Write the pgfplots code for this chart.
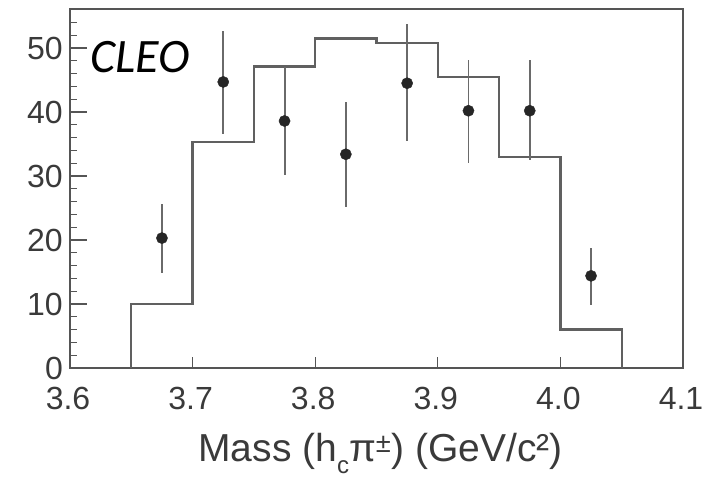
\documentclass[border=0pt]{standalone}
\usepackage{pgfplots}
\pgfplotsset{compat=1.18}
\usepackage{fontspec}
\setmainfont{Liberation Sans}
\newfontfamily\cleofont{Carlito}
\definecolor{framegray}{HTML}{555555}
\definecolor{histgray}{HTML}{606060}
\definecolor{errgray}{HTML}{6A6A6A}
\definecolor{labgray}{HTML}{3A3A3A}
\begin{document}
\begin{tikzpicture}
\begin{axis}[
  name=ax,
  scale only axis,
  width=613bp, height=359bp,
  xmin=3.6, xmax=4.1, ymin=0, ymax=56.1,
  xtick={3.6,3.7,3.8,3.9,4.0,4.1},
  xticklabels={3.6,3.7,3.8,3.9,4.0,4.1},
  ytick={0,10,20,30,40,50},
  minor ytick={2,4,6,8,12,14,16,18,22,24,26,28,32,34,36,38,42,44,46,48,52,54},
  tick align=inside,
  xtick pos=bottom, ytick pos=left,
  axis line style={framegray, line width=2.2bp},
  major tick style={framegray, line width=1.3bp},
  minor tick style={framegray, line width=1.1bp},
  x tick style={/pgfplots/major tick length=11bp},
  y tick style={/pgfplots/major tick length=17bp},
  minor tick length=7bp,
  ticklabel style={font=\fontsize{32bp}{36bp}\selectfont, text=labgray, inner sep=0pt},
  yticklabel style={xshift=-7bp},
  xticklabel style={yshift=-19bp, xshift=-2bp},
  /pgf/number format/assume math mode=true,
  xlabel={Mass (h\raisebox{-0.3em}{\fontsize{24bp}{26bp}\selectfont c}π\textsuperscript{±}) (GeV/c²)},
  xlabel style={at={(axis description cs:0.5,0)}, anchor=base, yshift=-94bp, xshift=4bp,
    font=\fontsize{39bp}{44bp}\selectfont, text=labgray, inner sep=0pt},
  clip=false,
]
\addplot[const plot mark left, histgray, line width=2.4bp] coordinates {
  (3.65,0) (3.65,10) (3.70,35.3) (3.75,47.1) (3.80,51.5) (3.85,50.8)
  (3.90,45.5) (3.95,33.0) (4.00,6.0) (4.05,6.0) (4.05,0)
};
\addplot[only marks, mark=*, mark size=5.6bp, mark options={fill=black!85, draw=black!85},
  error bars/.cd, y dir=both, y explicit,
  error bar style={errgray, line width=1.9bp}, error mark=none]
  table[x=x, y=y, y error plus=ep, y error minus=em] {
  x      y     ep    em
  3.675  20.3  5.3   5.5
  3.725  44.7  8.0   8.2
  3.775  38.6  8.5   8.4
  3.825  33.4  8.1   8.2
  3.875  44.5  9.25  9.1
  3.925  40.2  8.0   8.2
  3.975  40.2  7.9   7.7
  4.025  14.4  4.3   4.6
};
\node[anchor=base west, inner sep=0pt, font=\cleofont\itshape\fontsize{48bp}{52bp}\selectfont]
  at (axis cs:3.6163,46.1) {CLEO};
\end{axis}
\pgfresetboundingbox
\path ([shift={(-70bp,-110bp)}]ax.south west) rectangle ([shift={(38bp,9bp)}]ax.north east);
\end{tikzpicture}
\end{document}
